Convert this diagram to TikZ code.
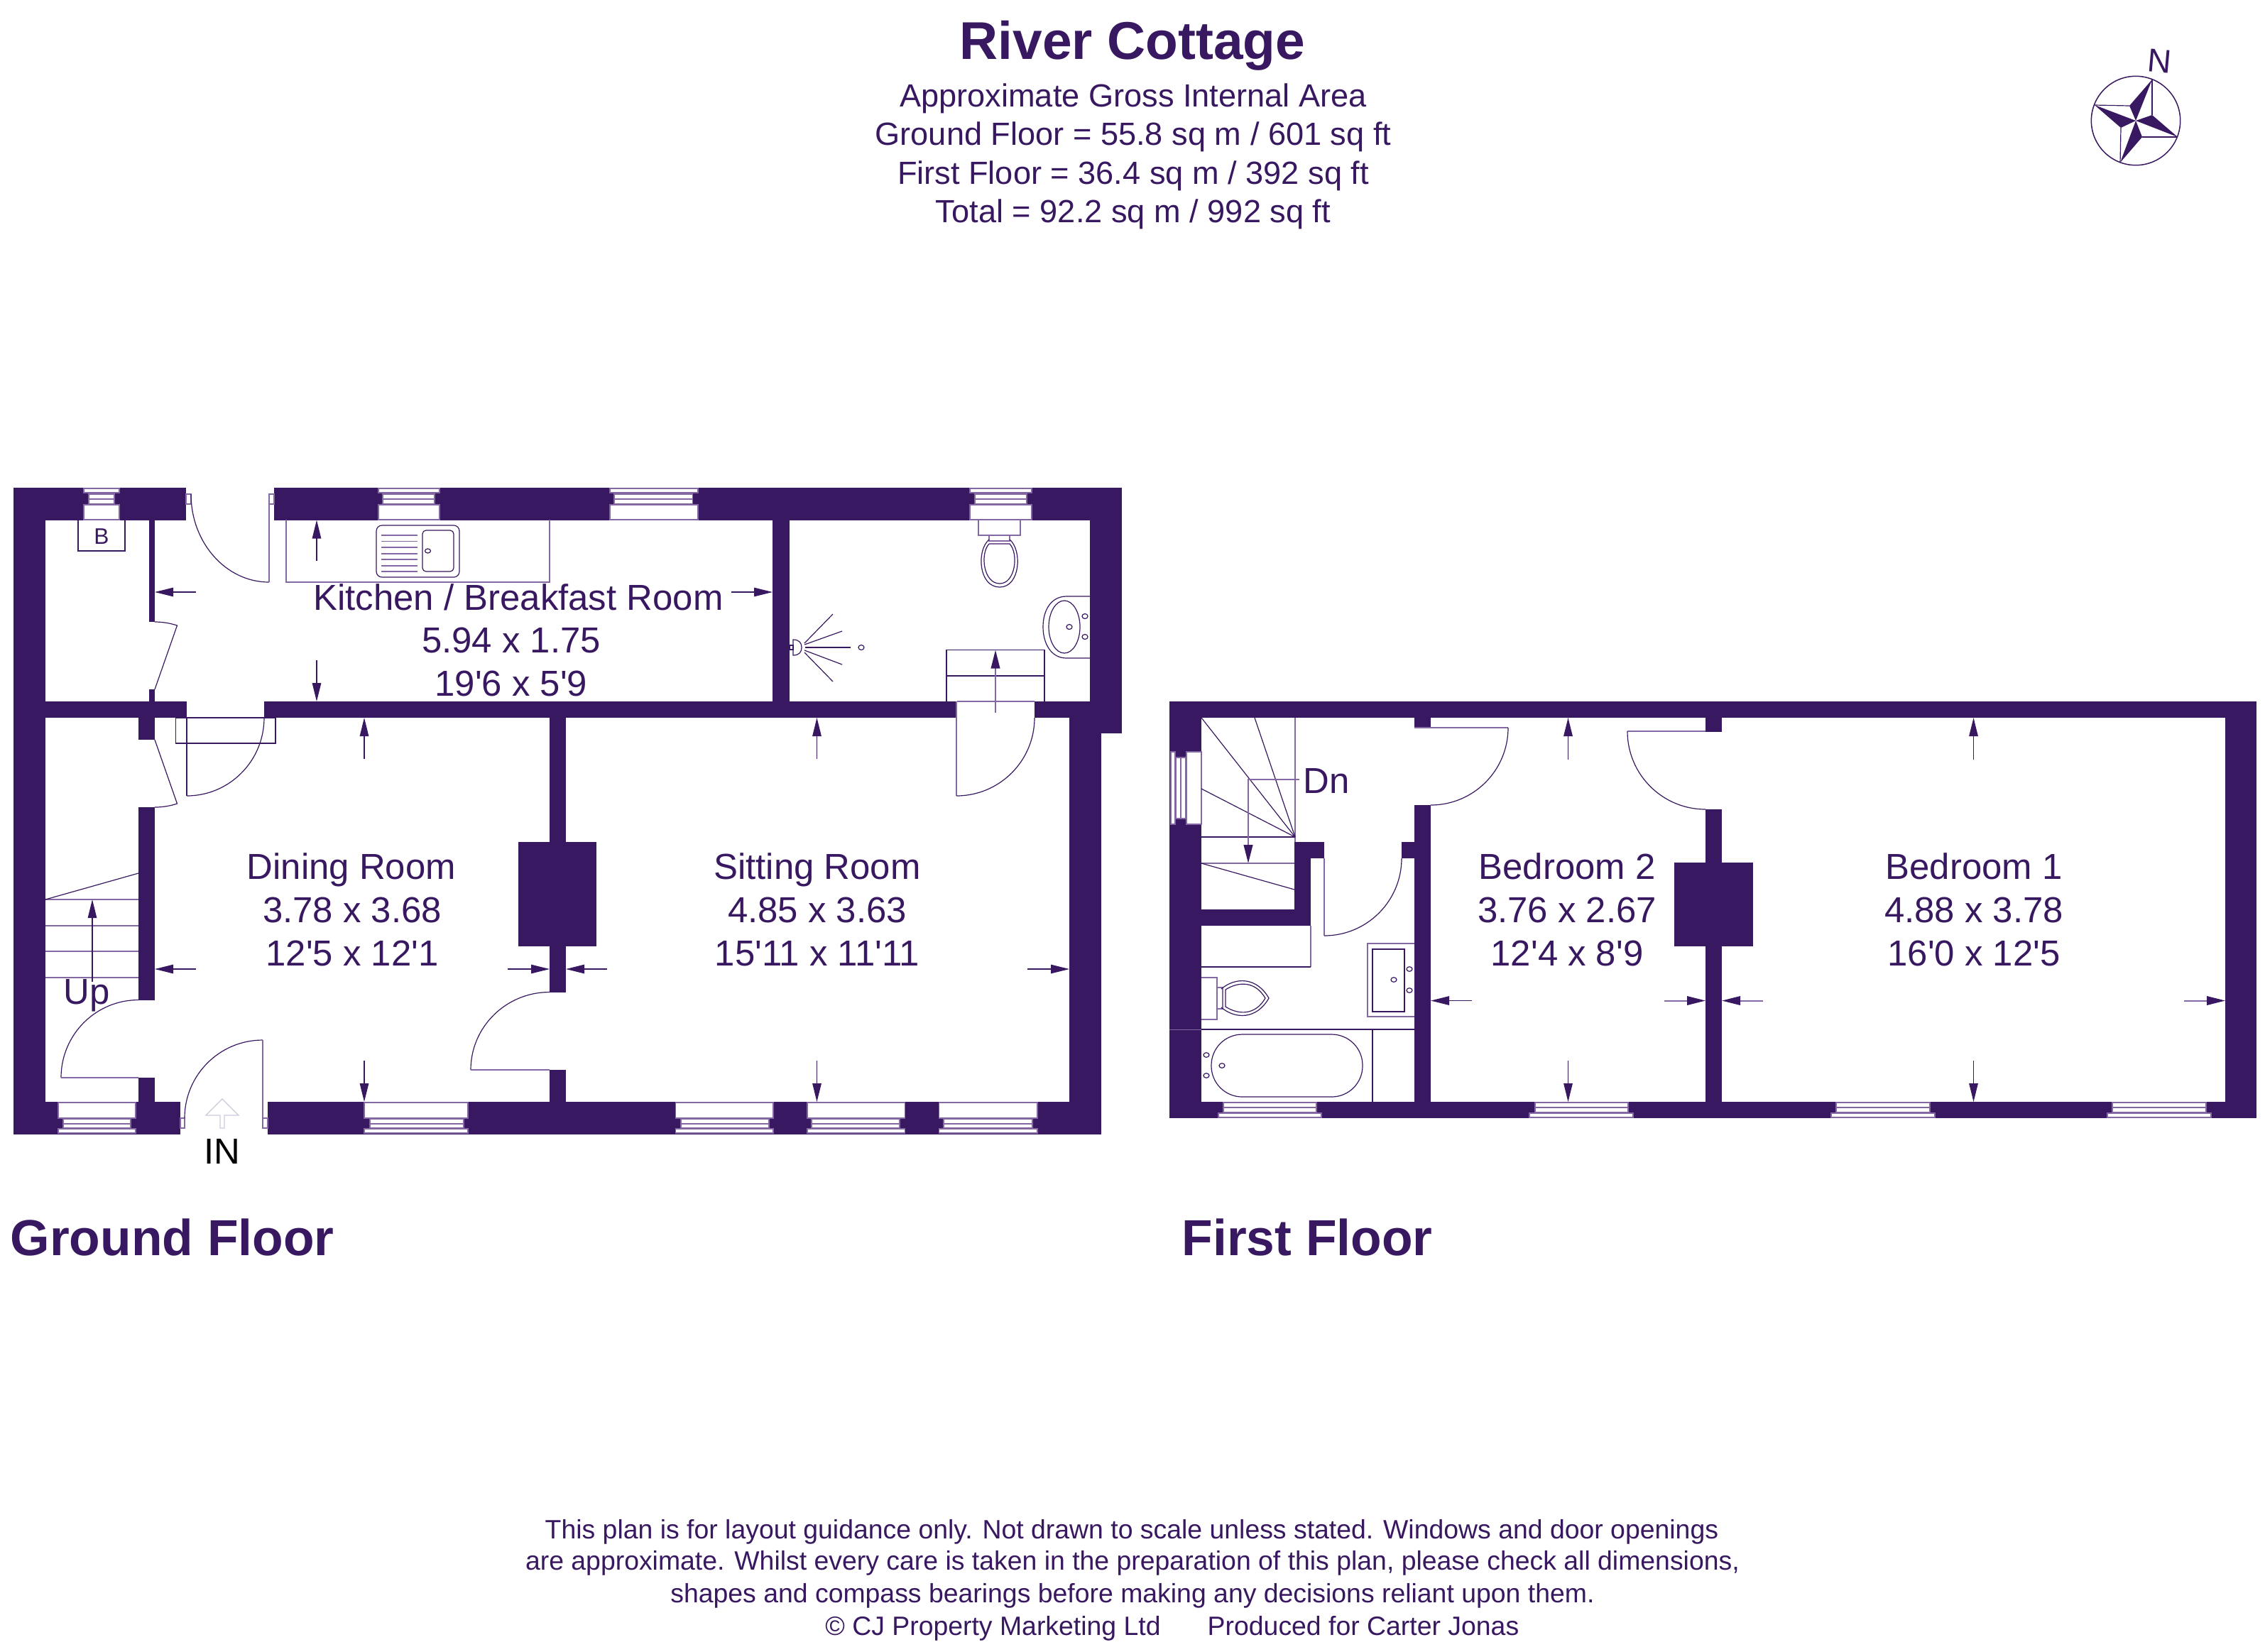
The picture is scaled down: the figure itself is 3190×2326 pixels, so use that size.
\documentclass[tikz,border=0pt]{standalone}
\usepackage{fontspec}
\setmainfont{Liberation Sans}
\newfontfamily\roomf{Liberation Sans}
\usetikzlibrary{calc,arrows.meta}
\definecolor{plan}{HTML}{381860}
\definecolor{soft}{HTML}{8468A4}
\definecolor{ghost}{HTML}{CFC8DC}
\tikzset{
  wall/.style={fill=plan,draw=none},
  thinl/.style={draw=plan,line width=0.12mm},
  softl/.style={draw=soft,line width=0.2mm},
  glass/.style={fill=white,draw=soft,line width=0.13mm},
  dimline/.style={draw=plan,line width=0.12mm,-{Triangle[length=2.6mm,width=1.25mm,fill=plan]}},
  dimsoft/.style={draw=soft,line width=0.2mm,-{Triangle[length=2.6mm,width=1.25mm,fill=plan,color=plan]}},
  room/.style={font=\roomf\fontsize{14.48}{17}\selectfont,text=plan,anchor=base,inner sep=0pt},
  blk/.style={font=\roomf\fontsize{14.48}{17}\selectfont,text=black,anchor=base,inner sep=0pt},
  head/.style={font=\fontsize{21.3}{25}\bfseries\selectfont,text=plan,anchor=base,inner sep=0pt},
  floorname/.style={font=\fontsize{20.3}{25}\bfseries\selectfont,text=plan,anchor=base west,inner sep=0pt},
  area/.style={font=\fontsize{12.85}{15}\selectfont,text=plan,anchor=base,inner sep=0pt},
  foot/.style={font=\fontsize{10.64}{13}\selectfont,text=plan,anchor=base,inner sep=0pt},
}
% wall block
\newcommand\wl[4]{\fill[wall] (#1,#2) rectangle (#3,#4);}
% quarter curve between two points with its corner
\newcommand\qarc[6]{\draw[thinl] (#1,#2) .. controls ($(#1,#2)!0.5523!(#5,#6)$) and ($(#3,#4)!0.5523!(#5,#6)$) .. (#3,#4);}
% windows: x1 x2 narrow x1 narrow x2
\newcommand\wintop[4]{%
  \filldraw[glass] (#1,688) rectangle (#2,694);
  \filldraw[glass] (#3,696) rectangle (#4,710);
  \draw[softl] (#3,703) -- (#4,703);
  \filldraw[glass] (#1,711) rectangle (#2,732);}
\newcommand\winbot[4]{%
  \filldraw[glass] (#1,1553) rectangle (#2,1575);
  \filldraw[glass] (#3,1576) rectangle (#4,1589);
  \draw[softl] (#3,1582.5) -- (#4,1582.5);
  \filldraw[glass] (#1,1590) rectangle (#2,1596);}
\newcommand\winfirst[4]{%
  \filldraw[glass] (#3,1553) rectangle (#4,1567);
  \draw[softl] (#3,1560) -- (#4,1560);
  \filldraw[glass] (#1,1568) rectangle (#2,1574);}
\begin{document}
\begin{tikzpicture}[x=0.1mm,y=-0.1mm]
\useasboundingbox (0,0) rectangle (3190,2326);
\fill[white] (0,0) rectangle (3190,2326);

% ---------- ground floor walls
\wl{19}{687}{262}{732.5}
\wl{386}{687}{1580}{732.5}
\wl{19}{732}{64}{1598}
\wl{210}{732}{218}{876}
\wl{210}{971}{218}{988}
\wl{64}{988}{263}{1011}
\wl{372}{988}{1347.5}{1011}
\wl{1456.6}{988}{1535}{1011}
\wl{195}{1011}{218}{1042}
\wl{195}{1137}{218}{1408.5}
\wl{195}{1518}{218}{1552}
\wl{19}{1552}{253.5}{1598}
\wl{377}{1552}{1550.5}{1598}
\wl{774}{1011}{797}{1397.5}
\wl{774}{1507}{797}{1552}
\wl{729.6}{1186}{840}{1333}
\wl{1088}{732}{1112}{988}
\wl{1535}{732}{1580}{1033}
\wl{1506}{1011}{1550.5}{1598}

% ground floor windows
\wintop{118}{168}{125}{161}
\wintop{533}{619}{539}{612}
\wintop{859}{983}{865}{975.5}
\wintop{1366}{1453}{1373}{1446}
\winbot{82}{191}{89}{184}
\winbot{513}{659}{521}{653}
\winbot{951.5}{1089}{959}{1083}
\winbot{1137}{1274.5}{1143}{1267}
\winbot{1322.5}{1461}{1329}{1454}

% ground floor doors
\draw[softl] (262,696) rectangle (269,710);
\draw[softl] (379,696) rectangle (386,710);
\qarc{269}{696}{379}{820}{269}{820}
\draw[softl] (379,696) -- (379,820);
\draw[thinl] (218,876) .. controls (230,876) and (240,878) .. (249.5,881) -- (218,971);
\draw[thinl] (263,1011) -- (263,1121);
\qarc{263}{1121}{372}{1011}{372}{1121}
\draw[thinl] (247.5,1011) rectangle (388,1047);
\draw[thinl] (218,1042) -- (249.5,1132) .. controls (240,1135) and (230,1137) .. (218,1137);
\qarc{195}{1408.5}{86}{1518}{86}{1408.5}
\draw[softl] (86,1518) -- (195,1518);
\draw[softl] (253.5,1575) rectangle (260,1589);
\draw[softl] (370,1575) rectangle (377,1589);
\qarc{260}{1575}{370}{1465}{260}{1465}
\draw[softl] (370,1465) -- (370,1589);
\qarc{774}{1397.5}{663}{1507}{663}{1397.5}
\draw[softl] (663,1507) -- (774,1507);
\draw[softl] (1347,988) -- (1347,1121);
\draw[softl] (1347.5,988) -- (1456.6,988);
\qarc{1347}{1121}{1457}{1011}{1457}{1121}

% IN arrow
\draw[draw=ghost,line width=0.13mm] (310,1589) -- (310,1571) -- (290,1571) -- (313,1548) -- (336,1571) -- (316,1571) -- (316,1589) -- cycle;

% kitchen fittings
\draw[thinl] (110,732) -- (110,776) -- (176,776) -- (176,732);
\draw[softl] (403,732) -- (403,820) -- (774,820) -- (774,732);
\draw[thinl,rounded corners=0.8mm] (530,740) rectangle (647,813);
\draw[thinl,rounded corners=0.5mm] (595,747) rectangle (639,805);
\foreach \yy in {754,762.5,771,780,788,797,805}{\draw[softl,line width=0.13mm] (537,\yy) -- (588,\yy);}
\draw[thinl] (602.5,776) circle[x radius=0.4mm,y radius=0.3mm];

% stairs, ground
\foreach \yy in {1267,1304,1340,1377}{\draw[softl,line width=0.15mm] (64,\yy) -- (195,\yy);}
\draw[thinl] (64,1267) -- (195,1230);

% WC / shower fittings
\draw[softl] (1377.5,732) rectangle (1437,754);
\draw[softl] (1393,754) rectangle (1422,762);
\draw[thinl] (1393,760) .. controls (1375,775) and (1378,827) .. (1408,827) .. controls (1437,827) and (1440,775) .. (1422,760);
\draw[thinl] (1393,766) -- (1422,766) .. controls (1435,780) and (1430,822) .. (1408,822) .. controls (1385,822) and (1380,780) .. (1393,766);
\draw[thinl] (1535,840) -- (1502,840) .. controls (1480,840) and (1469,860) .. (1469,883) .. controls (1469,906) and (1480,927) .. (1502,927) -- (1535,927);
\draw[thinl] (1499,883) circle[x radius=2.2mm,y radius=3.7mm];
\draw[thinl] (1506,883) circle[x radius=0.4mm,y radius=0.35mm];
\draw[thinl] (1528,868) circle[x radius=0.4mm,y radius=0.35mm];
\draw[thinl] (1528,897) circle[x radius=0.4mm,y radius=0.35mm];
\draw[thinl] (1133,906) -- (1173,865);
\draw[thinl] (1133,908) -- (1186,889);
\draw[thinl] (1134,912) -- (1198,912);
\draw[thinl] (1133,916) -- (1186,936);
\draw[thinl] (1133,919) -- (1173,960);
\draw[thinl] (1117,901) .. controls (1126,901) and (1129,906) .. (1129,912) .. controls (1129,918) and (1126,923) .. (1117,923) -- cycle;
\draw[thinl] (1112,909) rectangle (1117,915);
\draw[thinl] (1213,912) circle[x radius=0.4mm,y radius=0.35mm];
\draw[thinl] (1333,988) -- (1333,915.5) -- (1471,915.5) -- (1471,988);
\draw[thinl] (1333,952) -- (1471,952);

% ground floor dimension arrows
\draw[dimline] (446,790) -- (446,732.5);
\draw[dimline] (276,834) -- (218,834);
\draw[dimline] (446,930) -- (446,988);
\draw[dimline] (1030,834) -- (1088,834);
\draw[dimline] (513,1069) -- (513,1011);
\draw[dimline] (513,1494) -- (513,1552);
\draw[dimline] (276,1365) -- (218,1365);
\draw[dimline] (715,1365) -- (774,1365);
\draw[dimline] (855,1365) -- (797,1365);
\draw[dimline] (1447,1365) -- (1506,1365);
\draw[dimline] (1150.5,1069) -- (1150.5,1011);
\draw[dimline] (1150.5,1494) -- (1150.5,1552);
\draw[dimsoft] (1402,1004) -- (1402,915.5);
\draw[dimline] (130,1383) -- (130,1267);

% ---------- first floor walls
\wl{1647}{988}{3178}{1011}
\wl{1647}{1011}{1692}{1575}
\wl{1647}{1552}{3178}{1575}
\wl{3134}{1011}{3178}{1575}
\wl{1823}{1186}{1865}{1209}
\wl{1823}{1209}{1846}{1304}
\wl{1692}{1281}{1846}{1304}
\wl{1974}{1186}{2015}{1209}
\wl{1992}{1011}{2015}{1025}
\wl{1992}{1134}{2015}{1552}
\wl{2402}{1011}{2425}{1031}
\wl{2402}{1140}{2425}{1552}
\wl{2358}{1215}{2469}{1333}

% first floor windows
\filldraw[glass] (1649,1059) rectangle (1655,1161);
\filldraw[glass] (1656,1067) rectangle (1670,1153);
\draw[softl] (1663,1067) -- (1663,1153);
\filldraw[glass] (1671,1059) rectangle (1692,1161);
\winfirst{1716}{1861}{1723}{1854}
\winfirst{2154}{2300}{2162}{2293}
\winfirst{2579}{2725}{2586}{2718}
\winfirst{2968}{3114}{2975}{3107}

% stairs, first floor
\draw[softl] (1824,1011) -- (1824,1186);
\draw[thinl] (1824,1179) -- (1767,1011);
\draw[thinl] (1824,1179) -- (1692,1011);
\draw[thinl] (1824,1179) -- (1692,1111);
\draw[thinl] (1692,1179) -- (1824,1179);
\draw[softl] (1692,1216) -- (1823,1216);
\draw[thinl] (1692,1216) -- (1823,1253);
\draw[draw=soft,line width=0.25mm,-{Triangle[length=2.6mm,width=1.25mm,color=plan,fill=plan]}] (1830,1098) -- (1758,1098) -- (1758,1216);

% first floor doors
\draw[softl] (1992,1025) -- (2124,1025);
\qarc{2124}{1025}{2015}{1134}{2124}{1134}
\draw[softl] (1865,1209) -- (1865,1318);
\qarc{1865}{1318}{1974}{1209}{1974}{1318}
\draw[softl] (2402,1030) -- (2292,1030);
\qarc{2292}{1030}{2402}{1140}{2292}{1140}

% bathroom fittings
\draw[softl] (1846,1304) -- (1846,1362);
\draw[thinl] (1692,1362) -- (1846,1362);
\draw[softl] (1992,1329) -- (1926,1329) -- (1926,1432) -- (1992,1432);
\draw[thinl] (1933,1337) rectangle (1978,1425);
\draw[thinl] (1963,1380) circle[x radius=0.4mm,y radius=0.33mm];
\draw[thinl] (1985,1365) circle[x radius=0.4mm,y radius=0.33mm];
\draw[thinl] (1985,1395) circle[x radius=0.4mm,y radius=0.33mm];
\draw[softl] (1692,1377) -- (1714,1377) -- (1714,1436) -- (1692,1436);
\draw[softl] (1714,1391) rectangle (1722,1421);
\draw[thinl] (1720,1393) .. controls (1740,1376) and (1770,1376) .. (1787,1406) .. controls (1770,1436) and (1740,1436) .. (1720,1419);
\draw[thinl] (1726,1394) .. controls (1745,1382) and (1768,1382) .. (1782,1406) .. controls (1768,1430) and (1745,1430) .. (1726,1418) -- cycle;
\draw[draw=soft,line width=0.1mm] (1647,1450) -- (1692,1450);
\draw[thinl] (1692,1450) -- (1992,1450);
\draw[thinl] (1933,1450) -- (1933,1552);
\draw[thinl,rounded corners=4.35mm] (1706,1457) rectangle (1919,1545);
\draw[thinl] (1699,1486) circle[x radius=0.4mm,y radius=0.33mm];
\draw[thinl] (1699,1515) circle[x radius=0.4mm,y radius=0.33mm];
\draw[thinl] (1721,1501) circle[x radius=0.4mm,y radius=0.33mm];

% first floor dimension arrows
\draw[dimline] (2208.5,1070) -- (2208.5,1011);
\draw[dimline] (2208.5,1494) -- (2208.5,1552);
\draw[dimline] (2073,1409.5) -- (2015,1409.5);
\draw[dimsoft] (2343.5,1409.5) -- (2402,1409.5);
\draw[dimsoft] (2483,1409.5) -- (2425,1409.5);
\draw[dimline] (2779.5,1070) -- (2779.5,1011);
\draw[dimline] (2779.5,1494) -- (2779.5,1552);
\draw[dimsoft] (3076,1409.5) -- (3134,1409.5);

% ---------- compass
\draw[thinl,line width=0.15mm] (3008,170) circle[radius=6.27mm];
\fill[plan] (3031,112) -- (2999,149) -- (3008,170) -- cycle;
\fill[plan] (3067,193) -- (3031,162) -- (3008,170) -- cycle;
\fill[plan] (2986,229) -- (3017,193) -- (3008,170) -- cycle;
\fill[plan] (2950,148) -- (2987,180) -- (3008,170) -- cycle;
\draw[thinl] (3031,112) -- (3031,162);
\draw[thinl] (3067,193) -- (3017,193);
\draw[thinl] (2986,229) -- (2987,180);
\draw[thinl] (2950,148) -- (2999,149);
\node[area,anchor=center,rotate=-5,font=\fontsize{13.2}{15}\selectfont] (north) at (3042,86) {N};

% ---------- text
\node[head] (title) at (1595,83) {River Cottage};
\node[area] (a1) at (1596,150) {Approximate Gross Internal Area};
\node[area] (a2) at (1596,204) {Ground Floor = 55.8 sq m / 601 sq ft};
\node[area] (a3) at (1596,259) {First Floor = 36.4 sq m / 392 sq ft};
\node[area] (a4) at (1596,313) {Total = 92.2 sq m / 992 sq ft};

\node[room] (k1) at (730,859) {Kitchen / Breakfast Room};
\node[room] (k2) at (720,919) {5.94 x 1.75};
\node[room] (k3) at (720,980) {19'6 x 5'9};
\node[room] (d1) at (495,1238) {Dining Room};
\node[room] (d2) at (496,1299) {3.78 x 3.68};
\node[room] (d3) at (496,1360) {12'5 x 12'1};
\node[room] (s1) at (1151,1238) {Sitting Room};
\node[room] (s2) at (1151,1299) {4.85 x 3.63};
\node[room] (s3) at (1151,1360) {15'11 x 11'11};
\node[room] (b21) at (2207,1238) {Bedroom 2};
\node[room] (b22) at (2207,1299) {3.76 x 2.67};
\node[room] (b23) at (2207,1360) {12'4 x 8'9};
\node[room] (b11) at (2780,1238) {Bedroom 1};
\node[room] (b12) at (2780,1299) {4.88 x 3.78};
\node[room] (b13) at (2780,1360) {16'0 x 12'5};
\node[room] (up) at (122.5,1414) {Up};
\node[room] (dn) at (1868,1117) {Dn};
\node[blk] (in) at (313,1639) {IN};
\node[room,font=\fontsize{9}{11}\selectfont] (boiler) at (143,766) {B};
\node[floorname] (gf) at (14,1768) {Ground Floor};
\node[floorname] (ff) at (1664,1768) {First Floor};
\node[foot] (f1) at (1594,2167) {This plan is for layout guidance only. Not drawn to scale unless stated. Windows and door openings};
\node[foot] (f2) at (1595,2211) {are approximate. Whilst every care is taken in the preparation of this plan, please check all dimensions,};
\node[foot] (f3) at (1595,2257) {shapes and compass bearings before making any decisions reliant upon them.};
\node[foot] (f4) at (1398.5,2303) {\textcopyright\ CJ Property Marketing Ltd};
\node[foot] (f5) at (1920,2303) {Produced for Carter Jonas};
\end{tikzpicture}
\end{document}
